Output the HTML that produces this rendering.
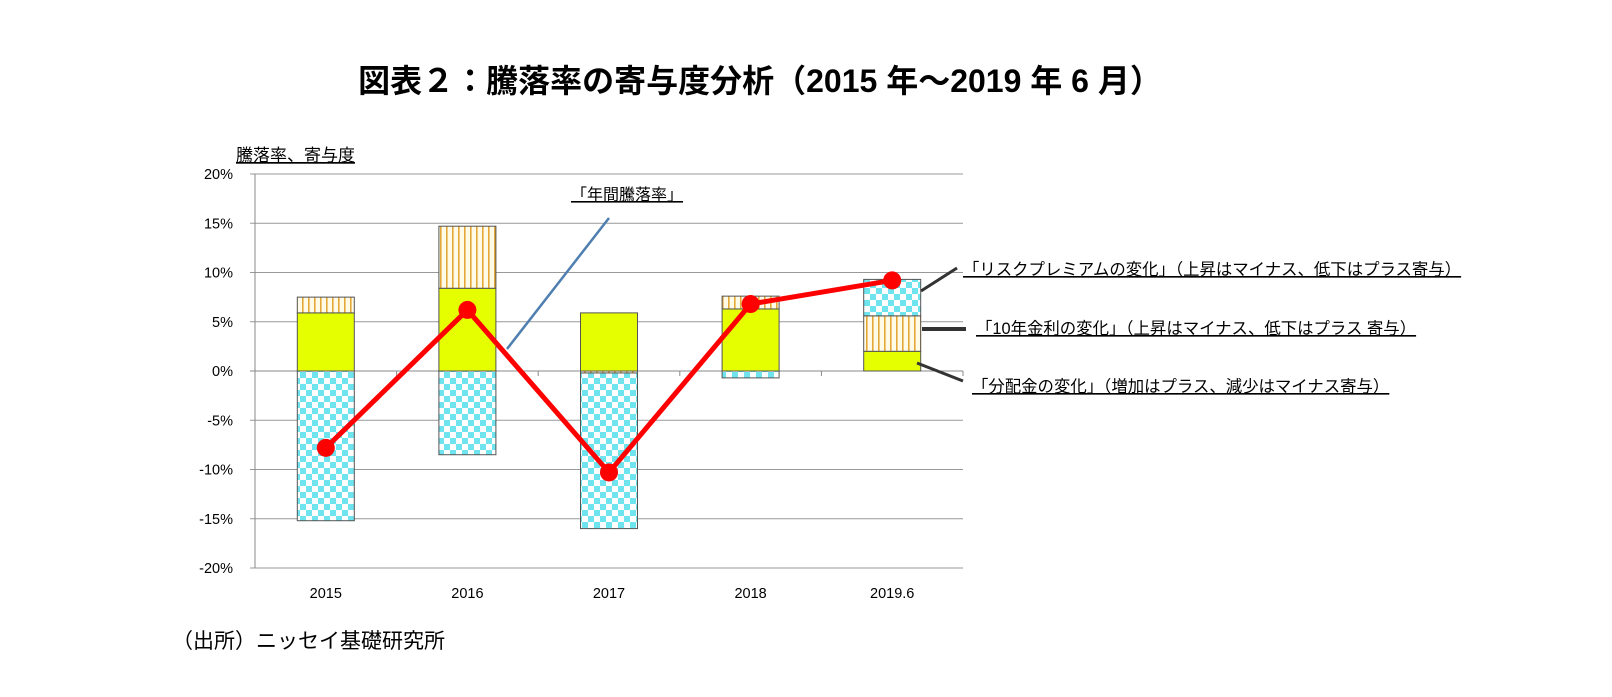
<!DOCTYPE html>
<html><head><meta charset="utf-8"><style>
body{margin:0;background:#fff;}
svg{display:block;font-family:"Liberation Sans","Noto Sans CJK JP",sans-serif;}
</style></head><body>
<svg id="c" width="1612" height="697" xmlns="http://www.w3.org/2000/svg">
<defs>
<pattern id="chk" width="12" height="12" patternUnits="userSpaceOnUse">
<rect width="12" height="12" fill="#fff"/><rect width="6" height="6" fill="#6fe3ee"/><rect x="6" y="6" width="6" height="6" fill="#6fe3ee"/>
</pattern>
<pattern id="vh" width="6" height="6" patternUnits="userSpaceOnUse">
<rect width="6" height="6" fill="#fffbe6"/><rect x="2" width="1.6" height="6" fill="#e5a838"/>
</pattern>
</defs>
<text x="760" y="92" text-anchor="middle" font-size="32" font-weight="bold">図表２：騰落率の寄与度分析（2015 年～2019 年 6 月）</text>
<text x="236" y="161" font-size="17" text-decoration="underline">騰落率、寄与度</text>
<g id="grid"></g><g id="bars"></g><g id="line"></g>
<g>
<line x1="507" y1="349" x2="609" y2="218" stroke="#4f7fb0" stroke-width="2.5"/>
<text x="571" y="200" font-size="16" text-decoration="underline">「年間騰落率」</text>
<line x1="921" y1="291" x2="957" y2="268" stroke="#333" stroke-width="3"/>
<text x="963" y="275" font-size="16.4" text-decoration="underline">「リスクプレミアムの変化」（上昇はマイナス、低下はプラス寄与）</text>
<line x1="922" y1="329" x2="966" y2="329" stroke="#333" stroke-width="4"/>
<text x="976" y="334" font-size="16.4" text-decoration="underline">「10年金利の変化」（上昇はマイナス、低下はプラス 寄与）</text>
<line x1="917" y1="363" x2="963" y2="381" stroke="#333" stroke-width="3"/>
<text x="972" y="392" font-size="16.4" text-decoration="underline">「分配金の変化」（増加はプラス、減少はマイナス寄与）</text>
</g>
<text x="172" y="648" font-size="21">（出所）ニッセイ基礎研究所</text>
</svg>
<script>
const categories=["2015","2016","2017","2018","2019.6"];
const dividend=[5.9,8.4,5.9,6.3,2.0];
const rate=[1.6,6.3,-0.2,1.3,3.6];
const risk=[-15.2,-8.5,-15.8,-0.7,3.7];
const totalReturn=[-7.8,6.2,-10.3,6.8,9.2];
const yTicks=[20,15,10,5,0,-5,-10,-15,-20];
const NS="http://www.w3.org/2000/svg";
const x0=255,x1=963,yTop=174,yBot=568;
const y=v=>yTop+(20-v)/40*(yBot-yTop);
const cw=(x1-x0)/categories.length;
const cx=i=>x0+cw*(i+0.5);
function mk(p,t,a){const e=document.createElementNS(NS,t);for(const k in a)e.setAttribute(k,a[k]);p.appendChild(e);return e;}
const g=document.getElementById('grid');
yTicks.forEach(t=>{
 const l=mk(g,'line',{x1:x0-5,x2:x1,y1:y(t),y2:y(t),stroke:t===0?'#888':'#999','stroke-width':1});
 
 
 const tx=mk(g,'text',{x:x0-22,y:y(t)+5,'font-size':14.5,'text-anchor':'end'});
 tx.textContent=t+'%';
 
 
});
mk(g,'line',{x1:x0,x2:x0,y1:yTop,y2:yBot,stroke:'#888'});
categories.forEach((c,i)=>{
 const tx=mk(g,'text',{x:cx(i),y:598,'font-size':14.5,'text-anchor':'middle'});
 tx.textContent=c;
 
 
 mk(g,'line',{x1:x0+cw*(i+1),x2:x0+cw*(i+1),y1:y(0),y2:y(0)+5,stroke:'#888'});
});
const b=document.getElementById('bars');
const bw=57;
categories.forEach((c,i)=>{
 let pos=0,neg=0;
 [[dividend,'#e6ff00','dividend-bar'],[rate,'url(#vh)','rate-bar'],[risk,'url(#chk)','risk-bar']].forEach(([arr,fill,name])=>{
  const v=arr[i];let a,bb;
  if(v>=0){a=pos;bb=pos+v;pos=bb;}else{a=neg;bb=neg+v;neg=bb;}
  const r=mk(b,'rect',{x:cx(i)-bw/2,y:Math.min(y(a),y(bb)),width:bw,height:Math.abs(y(a)-y(bb)),fill:fill,stroke:'#555','stroke-width':1});
  
  
 });
});
const L=document.getElementById('line');
const pl=mk(L,'polyline',{points:totalReturn.map((v,i)=>cx(i)+','+y(v)).join(' '),fill:'none',stroke:'#f00','stroke-width':5});


totalReturn.forEach((v,i)=>{
 const p=mk(L,'circle',{cx:cx(i),cy:y(v),r:9,fill:'#f00'});
 
 
});
</script>
</body></html>
